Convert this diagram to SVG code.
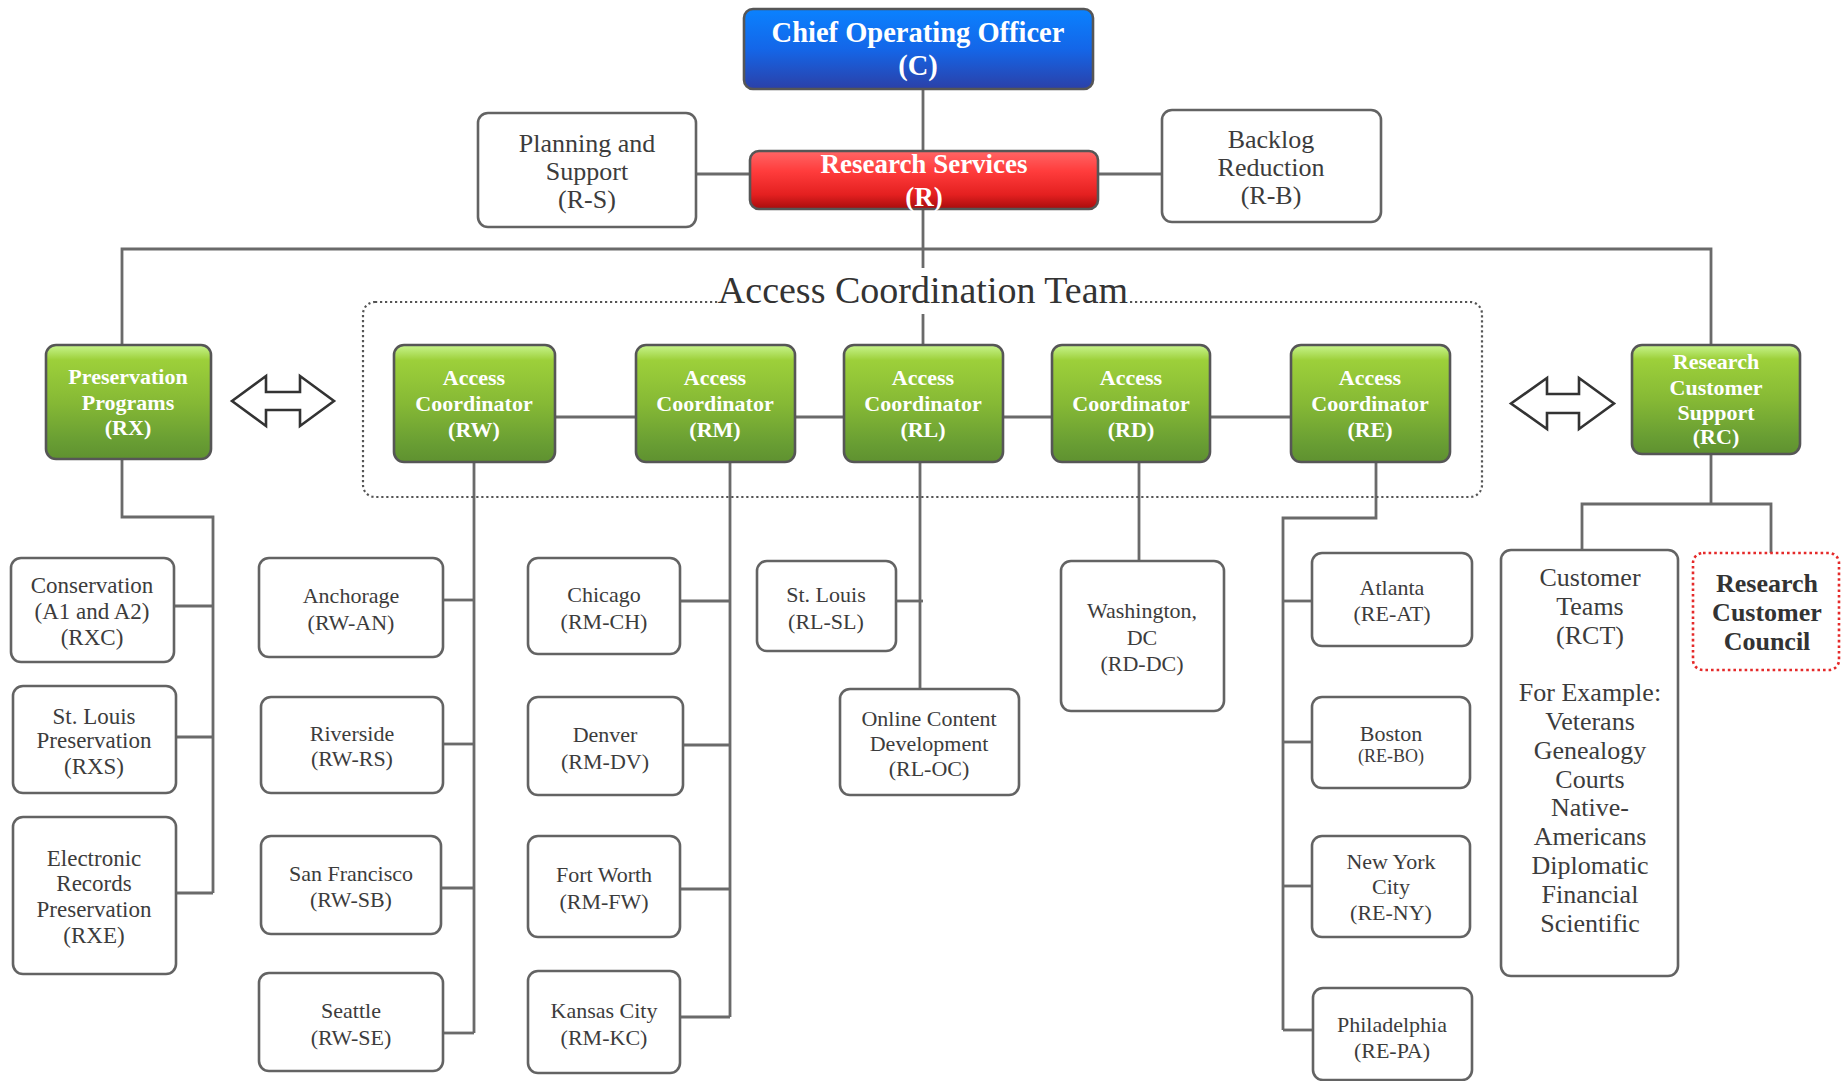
<svg xmlns="http://www.w3.org/2000/svg" width="1841" height="1081" viewBox="0 0 1841 1081">
<defs>
<linearGradient id="gGreen" x1="0" y1="0" x2="0" y2="1">
<stop offset="0" stop-color="#c8f58e"/>
<stop offset="0.13" stop-color="#9dd03a"/>
<stop offset="0.5" stop-color="#86b935"/>
<stop offset="0.85" stop-color="#689d33"/>
<stop offset="1" stop-color="#5f9130"/>
</linearGradient>
<linearGradient id="gBlue" x1="0" y1="0" x2="0" y2="1">
<stop offset="0" stop-color="#0a82ff"/>
<stop offset="0.5" stop-color="#1466e8"/>
<stop offset="1" stop-color="#2b40a8"/>
</linearGradient>
<linearGradient id="gRed" x1="0" y1="0" x2="0" y2="1">
<stop offset="0" stop-color="#ff6666"/>
<stop offset="0.35" stop-color="#ff3c3c"/>
<stop offset="0.75" stop-color="#e42020"/>
<stop offset="1" stop-color="#a80c0c"/>
</linearGradient>
</defs>
<style>
text{font-family:"Liberation Serif","DejaVu Serif",serif;text-anchor:middle;}
.box{fill:#fff;stroke:#636363;stroke-width:2.6;}
.cbox{stroke:#565656;stroke-width:2.6;}
.grn{fill:url(#gGreen);}
.t{fill:#3c3c3c;font-size:22px;}
.t23{fill:#3c3c3c;font-size:23px;}
.t26{fill:#3c3c3c;font-size:26px;}
.w{fill:#fff;font-size:22px;font-weight:bold;}
.conn path{fill:none;stroke:#6a6a6a;stroke-width:2.8;}
.arrow{fill:#fff;stroke:#333;stroke-width:2.6;stroke-linejoin:miter;}
</style>
<rect width="1841" height="1081" fill="#fff"/>

<g id="connectors" class="conn">
<path d="M923 89V151"/>
<path d="M696 174H750"/>
<path d="M1098 174H1162"/>
<path d="M923 209V345"/>
<path d="M122 345V249H1711V345"/>
<path d="M555 417H636"/>
<path d="M795 417H844"/>
<path d="M1003 417H1052"/>
<path d="M1210 417H1291"/>
<path d="M122 459V517H213V893"/>
<path d="M174 606H213"/>
<path d="M176 737H213"/>
<path d="M176 893H213"/>
<path d="M474 462V1033"/>
<path d="M443 600H474"/>
<path d="M443 744H474"/>
<path d="M441 888H474"/>
<path d="M443 1033H474"/>
<path d="M730 462V1017"/>
<path d="M680 601H730"/>
<path d="M683 745H730"/>
<path d="M680 889H730"/>
<path d="M680 1017H730"/>
<path d="M920 462V689"/>
<path d="M896 601H923"/>
<path d="M1139 462V561"/>
<path d="M1376 462V518H1283V1030"/>
<path d="M1283 601H1312"/>
<path d="M1283 742H1312"/>
<path d="M1283 886H1312"/>
<path d="M1283 1030H1313"/>
<path d="M1711 454V504"/>
<path d="M1582 550V504H1771V553"/>
</g>

<g id="team-frame">
<rect x="363" y="302" width="1119" height="195" rx="12" fill="none" stroke="#555" stroke-width="2.2" stroke-dasharray="2.2 2.8"/>
<rect x="719" y="268" width="410" height="46" fill="#fff"/>
<text x="923" y="303" style="font-size:38px;fill:#333;">Access Coordination Team</text>
</g>

<g id="arrows">
<path class="arrow" d="M232 401L266 376V392H300V376L334 401L300 426V410H266V426Z"/>
<path class="arrow" d="M1511 403.5L1547 378V394H1579V378L1614 403.5L1579 429V413H1547V429Z"/>
</g>

<g id="node-C">
<rect class="cbox" x="744" y="9" width="349" height="80" rx="9" fill="url(#gBlue)"/>
<text x="918" y="42" style="font-size:28.5px;font-weight:bold;fill:#fff;">Chief Operating Officer</text>
<text x="918" y="75" style="font-size:28.5px;font-weight:bold;fill:#fff;">(C)</text>
</g>
<g id="node-R">
<rect class="cbox" x="750" y="151" width="348" height="58" rx="9" fill="url(#gRed)"/>
<text x="924" y="173" style="font-size:27px;font-weight:bold;fill:#fff;">Research Services</text>
<text x="924" y="206" style="font-size:27px;font-weight:bold;fill:#fff;">(R)</text>
</g>
<g id="node-RS">
<rect class="box" x="478" y="113" width="218" height="114" rx="10"/>
<text class="t26" x="587" y="152">Planning and</text>
<text class="t26" x="587" y="180">Support</text>
<text class="t26" x="587" y="208">(R-S)</text>
</g>
<g id="node-RB">
<rect class="box" x="1162" y="110" width="219" height="112" rx="10"/>
<text class="t26" x="1271" y="148">Backlog</text>
<text class="t26" x="1271" y="176">Reduction</text>
<text class="t26" x="1271" y="204">(R-B)</text>
</g>

<g id="node-RX">
<rect class="cbox grn" x="46" y="345" width="165" height="114" rx="10"/>
<text class="w" x="128" y="384">Preservation</text>
<text class="w" x="128" y="410">Programs</text>
<text class="w" x="128" y="435">(RX)</text>
</g>
<g id="node-RW">
<rect class="cbox grn" x="394" y="345" width="161" height="117" rx="10"/>
<text class="w" x="474" y="385">Access</text>
<text class="w" x="474" y="411">Coordinator</text>
<text class="w" x="474" y="437">(RW)</text>
</g>
<g id="node-RM">
<rect class="cbox grn" x="636" y="345" width="159" height="117" rx="10"/>
<text class="w" x="715" y="385">Access</text>
<text class="w" x="715" y="411">Coordinator</text>
<text class="w" x="715" y="437">(RM)</text>
</g>
<g id="node-RL">
<rect class="cbox grn" x="844" y="345" width="159" height="117" rx="10"/>
<text class="w" x="923" y="385">Access</text>
<text class="w" x="923" y="411">Coordinator</text>
<text class="w" x="923" y="437">(RL)</text>
</g>
<g id="node-RD">
<rect class="cbox grn" x="1052" y="345" width="158" height="117" rx="10"/>
<text class="w" x="1131" y="385">Access</text>
<text class="w" x="1131" y="411">Coordinator</text>
<text class="w" x="1131" y="437">(RD)</text>
</g>
<g id="node-RE">
<rect class="cbox grn" x="1291" y="345" width="159" height="117" rx="10"/>
<text class="w" x="1370" y="385">Access</text>
<text class="w" x="1370" y="411">Coordinator</text>
<text class="w" x="1370" y="437">(RE)</text>
</g>
<g id="node-RC">
<rect class="cbox grn" x="1632" y="345" width="168" height="109" rx="10"/>
<text class="w" x="1716" y="369">Research</text>
<text class="w" x="1716" y="395">Customer</text>
<text class="w" x="1716" y="420">Support</text>
<text class="w" x="1716" y="444">(RC)</text>
</g>

<g id="node-RXC">
<rect class="box" x="11" y="558" width="163" height="104" rx="10"/>
<text class="t23" x="92" y="593">Conservation</text>
<text class="t23" x="92" y="619">(A1 and A2)</text>
<text class="t23" x="92" y="645">(RXC)</text>
</g>
<g id="node-RXS">
<rect class="box" x="13" y="686" width="163" height="107" rx="10"/>
<text class="t23" x="94" y="724">St. Louis</text>
<text class="t23" x="94" y="748">Preservation</text>
<text class="t23" x="94" y="774">(RXS)</text>
</g>
<g id="node-RXE">
<rect class="box" x="13" y="817" width="163" height="157" rx="10"/>
<text class="t23" x="94" y="866">Electronic</text>
<text class="t23" x="94" y="891">Records</text>
<text class="t23" x="94" y="917">Preservation</text>
<text class="t23" x="94" y="943">(RXE)</text>
</g>

<g id="node-RW-AN">
<rect class="box" x="259" y="558" width="184" height="99" rx="10"/>
<text class="t" x="351" y="603">Anchorage</text>
<text class="t" x="351" y="630">(RW-AN)</text>
</g>
<g id="node-RW-RS">
<rect class="box" x="261" y="697" width="182" height="96" rx="10"/>
<text class="t" x="352" y="741">Riverside</text>
<text class="t" x="352" y="766">(RW-RS)</text>
</g>
<g id="node-RW-SB">
<rect class="box" x="261" y="836" width="180" height="98" rx="10"/>
<text class="t" x="351" y="881">San Francisco</text>
<text class="t" x="351" y="907">(RW-SB)</text>
</g>
<g id="node-RW-SE">
<rect class="box" x="259" y="973" width="184" height="98" rx="10"/>
<text class="t" x="351" y="1018">Seattle</text>
<text class="t" x="351" y="1045">(RW-SE)</text>
</g>

<g id="node-RM-CH">
<rect class="box" x="528" y="558" width="152" height="96" rx="10"/>
<text class="t" x="604" y="602">Chicago</text>
<text class="t" x="604" y="629">(RM-CH)</text>
</g>
<g id="node-RM-DV">
<rect class="box" x="528" y="697" width="155" height="98" rx="10"/>
<text class="t" x="605" y="742">Denver</text>
<text class="t" x="605" y="769">(RM-DV)</text>
</g>
<g id="node-RM-FW">
<rect class="box" x="528" y="836" width="152" height="101" rx="10"/>
<text class="t" x="604" y="882">Fort Worth</text>
<text class="t" x="604" y="909">(RM-FW)</text>
</g>
<g id="node-RM-KC">
<rect class="box" x="528" y="971" width="152" height="102" rx="10"/>
<text class="t" x="604" y="1018">Kansas City</text>
<text class="t" x="604" y="1045">(RM-KC)</text>
</g>

<g id="node-RL-SL">
<rect class="box" x="757" y="561" width="139" height="90" rx="10"/>
<text class="t" x="826" y="602">St. Louis</text>
<text class="t" x="826" y="629">(RL-SL)</text>
</g>
<g id="node-RL-OC">
<rect class="box" x="840" y="689" width="179" height="106" rx="10"/>
<text class="t" x="929" y="726">Online Content</text>
<text class="t" x="929" y="751">Development</text>
<text class="t" x="929" y="776">(RL-OC)</text>
</g>

<g id="node-RD-DC">
<rect class="box" x="1061" y="561" width="163" height="150" rx="10"/>
<text class="t" x="1142" y="618">Washington,</text>
<text class="t" x="1142" y="645">DC</text>
<text class="t" x="1142" y="671">(RD-DC)</text>
</g>

<g id="node-RE-AT">
<rect class="box" x="1312" y="553" width="160" height="93" rx="10"/>
<text class="t" x="1392" y="595">Atlanta</text>
<text class="t" x="1392" y="621">(RE-AT)</text>
</g>
<g id="node-RE-BO">
<rect class="box" x="1312" y="697" width="158" height="91" rx="10"/>
<text class="t" x="1391" y="741">Boston</text>
<text class="t" x="1391" y="762" style="font-size:18px;">(RE-BO)</text>
</g>
<g id="node-RE-NY">
<rect class="box" x="1312" y="836" width="158" height="101" rx="10"/>
<text class="t" x="1391" y="869">New York</text>
<text class="t" x="1391" y="894">City</text>
<text class="t" x="1391" y="920">(RE-NY)</text>
</g>
<g id="node-RE-PA">
<rect class="box" x="1313" y="988" width="159" height="92" rx="10"/>
<text class="t" x="1392" y="1032">Philadelphia</text>
<text class="t" x="1392" y="1058">(RE-PA)</text>
</g>

<g id="node-RCT">
<rect class="box" x="1501" y="550" width="177" height="426" rx="10"/>
<text class="t26" x="1590" y="586">Customer</text>
<text class="t26" x="1590" y="615">Teams</text>
<text class="t26" x="1590" y="644">(RCT)</text>
<text class="t26" x="1590" y="701">For Example:</text>
<text class="t26" x="1590" y="730">Veterans</text>
<text class="t26" x="1590" y="759">Genealogy</text>
<text class="t26" x="1590" y="788">Courts</text>
<text class="t26" x="1590" y="816">Native-</text>
<text class="t26" x="1590" y="845">Americans</text>
<text class="t26" x="1590" y="874">Diplomatic</text>
<text class="t26" x="1590" y="903">Financial</text>
<text class="t26" x="1590" y="932">Scientific</text>
</g>
<g id="node-RCC">
<rect x="1693" y="553" width="146" height="117" rx="10" fill="#fff" stroke="#e52a2a" stroke-width="2.6" stroke-dasharray="2.6 3"/>
<text x="1767" y="592" style="font-size:26px;font-weight:bold;fill:#333;">Research</text>
<text x="1767" y="621" style="font-size:26px;font-weight:bold;fill:#333;">Customer</text>
<text x="1767" y="650" style="font-size:26px;font-weight:bold;fill:#333;">Council</text>
</g>
</svg>
